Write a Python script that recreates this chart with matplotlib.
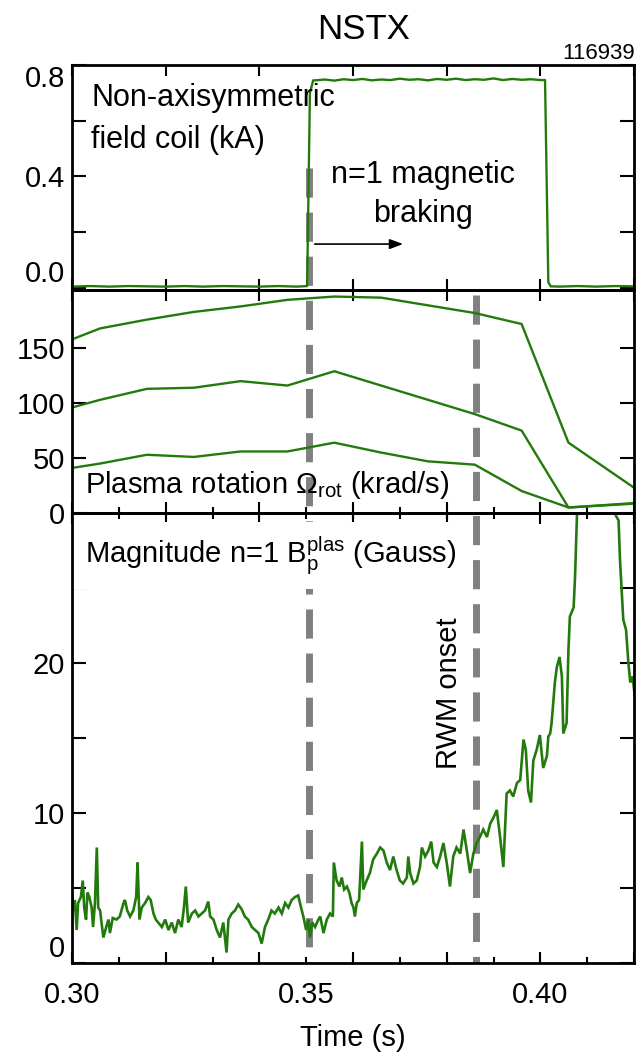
import matplotlib
matplotlib.use("Agg")
import matplotlib.pyplot as plt
import matplotlib.transforms as mtransforms
from matplotlib.ticker import MultipleLocator, FixedLocator, FuncFormatter

plt.rcParams['font.family'] = ['Liberation Sans', 'DejaVu Sans']
plt.rcParams['mathtext.fontset'] = 'custom'
plt.rcParams['mathtext.rm'] = 'Liberation Sans'
plt.rcParams['mathtext.it'] = 'Liberation Sans'
plt.rcParams['mathtext.bf'] = 'Liberation Sans'

# ---------------- data ----------------
shot_number = "116939"
event_times = [0.3506, 0.3862]   # braking start, RWM onset

coil_time = [0.300, 0.304, 0.308, 0.312, 0.316, 0.320, 0.324, 0.328, 0.332, 0.336,
             0.340, 0.344, 0.348, 0.3502, 0.3508, 0.3515,
             0.352, 0.354, 0.356, 0.358, 0.360, 0.362, 0.364, 0.366, 0.368, 0.370,
             0.372, 0.374, 0.376, 0.378, 0.380, 0.382, 0.384, 0.386, 0.388, 0.390,
             0.392, 0.394, 0.396, 0.398, 0.400, 0.4010, 0.4017, 0.4022,
             0.404, 0.408, 0.412, 0.416, 0.420]
coil_current = [0.004, 0.006, 0.004, 0.006, 0.005, 0.004, 0.006, 0.004, 0.006, 0.005,
                0.004, 0.006, 0.004, 0.006, 0.700, 0.745,
                0.745, 0.748, 0.744, 0.749, 0.746, 0.750, 0.745, 0.748, 0.746, 0.751,
                0.747, 0.749, 0.745, 0.750, 0.747, 0.751, 0.746, 0.749, 0.747, 0.752,
                0.746, 0.750, 0.747, 0.749, 0.746, 0.746, 0.020, 0.005,
                0.004, 0.006, 0.004, 0.006, 0.005]

rot_time = [0.300, 0.306, 0.316, 0.326, 0.336, 0.346, 0.356, 0.366, 0.376, 0.386, 0.396, 0.406, 0.420]
rot_core = [158, 168, 176, 183, 188, 194, 197, 196, 189, 182, 172, 64, 23]
rot_mid = [96, 103, 113, 114, 120, 116, 129, 116, 103, 90, 75, 5, 9]
rot_edge = [41, 45, 53, 51, 56, 56, 64, 55, 47, 44, 20, 5, 8.5]

mode_time = [
    0.3000, 0.3003, 0.3006, 0.3010, 0.3013, 0.3019, 0.3023, 0.3026, 0.3030, 0.3033,
    0.3037, 0.3042, 0.3045, 0.3049, 0.3053, 0.3056, 0.3060, 0.3063, 0.3067, 0.3073,
    0.3078, 0.3081, 0.3087, 0.3095, 0.3102, 0.3110, 0.3113, 0.3118, 0.3124, 0.3131,
    0.3137, 0.3140, 0.3144, 0.3149, 0.3156, 0.3163, 0.3168, 0.3174, 0.3179, 0.3184,
    0.3192, 0.3199, 0.3206, 0.3213, 0.3220, 0.3227, 0.3234, 0.3239, 0.3243, 0.3248,
    0.3256, 0.3263, 0.3270, 0.3277, 0.3284, 0.3291, 0.3295, 0.3302, 0.3309, 0.3316,
    0.3323, 0.3330, 0.3334, 0.3341, 0.3348, 0.3355, 0.3362, 0.3369, 0.3376, 0.3384,
    0.3391, 0.3398, 0.3405, 0.3412, 0.3419, 0.3426, 0.3433, 0.3441, 0.3448, 0.3455,
    0.3462, 0.3469, 0.3476, 0.3483, 0.3489, 0.3494, 0.3500, 0.3505, 0.3508, 0.3513,
    0.3519, 0.3526, 0.3530, 0.3537, 0.3544, 0.3551, 0.3557, 0.3559, 0.3565, 0.3571,
    0.3576, 0.3581, 0.3587, 0.3592, 0.3597, 0.3601, 0.3604, 0.3608, 0.3613, 0.3619,
    0.3622, 0.3629, 0.3636, 0.3643, 0.3651, 0.3658, 0.3665, 0.3672, 0.3679, 0.3686,
    0.3693, 0.3700, 0.3707, 0.3715, 0.3718, 0.3722, 0.3729, 0.3736, 0.3743, 0.3747,
    0.3754, 0.3761, 0.3767, 0.3772, 0.3779, 0.3786, 0.3793, 0.3800, 0.3807, 0.3814,
    0.3821, 0.3829, 0.3836, 0.3843, 0.3850, 0.3857, 0.3864, 0.3871, 0.3878, 0.3886,
    0.3893, 0.3900, 0.3907, 0.3914, 0.3921, 0.3928, 0.3935, 0.3942, 0.3950, 0.3957,
    0.3964, 0.3969, 0.3974, 0.3980, 0.3985, 0.3992, 0.3999, 0.4006, 0.4014, 0.4017,
    0.4021, 0.4024, 0.4028, 0.4031, 0.4035, 0.4041, 0.4046, 0.4049, 0.4056, 0.4060,
    0.4063, 0.4071, 0.4074, 0.4078, 0.4090, 0.4140, 0.4160, 0.4167, 0.4170, 0.4177,
    0.4183, 0.4188, 0.4192, 0.4197, 0.4202]
mode_amp = [
    4.5, 3.5, 4.2, 2.2, 4.0, 4.4, 5.5, 3.7, 2.9, 4.7,
    4.4, 3.7, 2.4, 4.0, 7.7, 3.7, 3.5, 2.7, 1.7, 2.4,
    2.9, 2.0, 3.0, 2.9, 3.1, 4.0, 4.2, 3.5, 3.1, 3.5,
    4.4, 6.7, 2.9, 3.7, 4.0, 4.4, 4.2, 3.3, 2.9, 2.7,
    2.4, 2.9, 2.2, 2.7, 2.0, 2.9, 2.4, 3.7, 5.1, 2.7,
    3.3, 3.5, 3.1, 3.3, 3.5, 4.1, 3.1, 2.9, 2.2, 1.7,
    2.7, 0.7, 2.9, 3.3, 3.5, 3.9, 3.6, 3.1, 2.9, 2.4,
    2.2, 2.0, 1.3, 2.4, 2.9, 3.5, 3.3, 3.7, 3.3, 4.0,
    3.7, 4.2, 4.4, 4.5, 3.7, 3.1, 2.2, 2.9, 1.7, 2.7,
    2.4, 2.9, 3.1, 2.0, 2.9, 3.3, 3.1, 6.7, 5.5, 5.1,
    5.7, 4.9, 5.1, 4.7, 4.0, 3.7, 3.1, 4.0, 4.2, 8.1,
    4.9, 5.5, 6.0, 6.9, 7.3, 7.7, 7.5, 6.7, 6.2, 7.1,
    6.2, 5.5, 5.3, 5.7, 7.1, 6.0, 5.3, 5.5, 6.4, 7.7,
    7.1, 7.5, 8.1, 6.7, 6.4, 7.1, 8.0, 6.7, 5.1, 7.1,
    7.7, 7.3, 8.9, 7.5, 6.0, 7.3, 8.0, 8.4, 8.9, 8.4,
    9.3, 9.7, 10.2, 8.4, 6.4, 11.3, 11.5, 11.1, 12.0, 12.2,
    14.9, 14.2, 11.5, 10.7, 13.5, 14.2, 15.2, 13.0, 13.8, 15.1,
    15.3, 16.0, 17.5, 18.7, 19.7, 20.4, 19.1, 15.3, 16.0, 20.9,
    23.1, 23.7, 25.7, 29.7, 38.0, 38.0, 29.9, 29.5, 26.9, 22.9,
    22.2, 20.0, 18.7, 19.1, 17.7]

# ---------------- style ----------------
GREEN = '#237a0c'
GREY = '#808080'
FS = 21

fig = plt.figure(figsize=(6.36, 10.54), dpi=100)
L, W = 0.1132, 0.8837

# background layer for the dashed event lines (drawn beneath the panels' curves/text)
bg = fig.add_axes([0, 0, 1, 1])
bg.set_zorder(-1)
bg.axis('off')

ax1 = fig.add_axes([L, 0.7249, W, 0.9383 - 0.7249])
ax2 = fig.add_axes([L, 0.5133, W, 0.7249 - 0.5133])
ax3 = fig.add_axes([L, 0.0863, W, 0.5133 - 0.0863])
for ax in (ax1, ax2, ax3):
    ax.patch.set_visible(False)

ax1.plot(coil_time, coil_current, color=GREEN, lw=1.7)
for series in (rot_core, rot_mid, rot_edge):
    ax2.plot(rot_time, series, color=GREEN, lw=1.7)
ax3.plot(mode_time, mode_amp, color=GREEN, lw=1.9, solid_joinstyle='miter')

for ax in (ax1, ax2, ax3):
    ax.set_xlim(0.30, 0.42)
    for s in ax.spines.values():
        s.set_linewidth(2)
    ax.xaxis.set_major_locator(MultipleLocator(0.02))
    ax.xaxis.set_minor_locator(MultipleLocator(0.01))
    ax.tick_params(which='both', direction='in', top=True, right=True,
                   labelsize=FS, width=1.5, pad=5)
    ax.tick_params(axis='y', which='both', length=10)
    ax.tick_params(axis='x', which='major', length=8)
    ax.tick_params(axis='x', which='minor', length=4.5)
    ax.tick_params(axis='x', which='major', labelbottom=False)

ax1.tick_params(axis='x', which='minor', top=False, bottom=False)
ax2.tick_params(axis='x', which='minor', top=False)

ax1.set_ylim(-0.008, 0.8)
ax1.yaxis.set_major_locator(FixedLocator([0.0, 0.4, 0.8]))
ax1.yaxis.set_minor_locator(FixedLocator([0.2, 0.6]))
ax1.yaxis.set_major_formatter(FuncFormatter(lambda v, p: f"{v:.1f}"))

ax2.set_ylim(0, 203)
ax2.yaxis.set_major_locator(FixedLocator([0, 50, 100, 150]))

ax3.set_ylim(0, 30)
ax3.yaxis.set_major_locator(FixedLocator([0, 10, 20]))
ax3.yaxis.set_minor_locator(FixedLocator([5, 15, 25]))

# x tick labels at 0.30, 0.35, 0.40 (on the minor ticks)
ax3.xaxis.remove_overlapping_locs = False
ax3.xaxis.set_minor_formatter(FuncFormatter(
    lambda v, p: f"{v:.2f}" if round(v * 100) % 5 == 0 else ""))
ax3.tick_params(axis='x', which='minor', labelbottom=True, labelsize=FS, pad=13)
ax3.set_xlabel("Time (s)", fontsize=FS, labelpad=11)

# edge y labels nudged inward like the reference
fig.canvas.draw()
for lab in ax1.get_yticklabels():
    if lab.get_text() == '0.8':
        lab.set_va('top')
    elif lab.get_text() == '0.0':
        lab.set_va('bottom')
for lab in ax3.get_yticklabels():
    if lab.get_text() == '0':
        lab.set_va('bottom')

# dashed event lines spanning the panels
blend = mtransforms.blended_transform_factory(ax3.transData, fig.transFigure)
bg.plot([event_times[0]] * 2, [0.8406, 0.0863], transform=blend, clip_on=False,
        color=GREY, lw=5, linestyle=(0, (4.2, 2.15)), solid_capstyle='butt',
        scalex=False, scaley=False)
bg.plot([event_times[1]] * 2, [0.7201, 0.0863], transform=blend, clip_on=False,
        color=GREY, lw=5, linestyle=(0, (4.2, 2.15)), solid_capstyle='butt',
        scalex=False, scaley=False)

# annotations
ax1.text(0.034, 0.818, "Non-axisymmetric", transform=ax1.transAxes, fontsize=22, va='baseline')
ax1.text(0.034, 0.631, "field coil (kA)", transform=ax1.transAxes, fontsize=22, va='baseline')
ax1.text(0.625, 0.476, "n=1 magnetic", transform=ax1.transAxes, fontsize=22, va='baseline', ha='center')
ax1.text(0.625, 0.302, "braking", transform=ax1.transAxes, fontsize=22, va='baseline', ha='center')
ax1.annotate("", xy=(0.594, 0.204), xytext=(0.427, 0.204), xycoords='axes fraction',
             arrowprops=dict(arrowstyle='-|>,head_length=0.8,head_width=0.3', color='black', lw=1.2))

ax2.text(0.023, 0.09, r"Plasma rotation $\Omega_{\mathrm{rot}}$ (krad/s)", transform=ax2.transAxes,
         fontsize=21, va='baseline')

ax3.text(0.023, 0.889, r"Magnitude n=1 $\mathrm{B}_{\mathrm{p}}^{\mathrm{plas}}$ (Gauss)",
         transform=ax3.transAxes, fontsize=21, va='baseline', zorder=2.4,
         bbox=dict(facecolor='white', edgecolor='none', pad=9))
ax3.text(0.3806, 18, "RWM onset", rotation=90, fontsize=21, ha='center', va='center', zorder=5)

fig.text(0.572, 0.963, "NSTX", fontsize=25, ha='center', va='baseline')
fig.text(0.998, 0.944, shot_number, fontsize=16, ha='right', va='baseline')

fig.savefig("out.png", dpi=100)
